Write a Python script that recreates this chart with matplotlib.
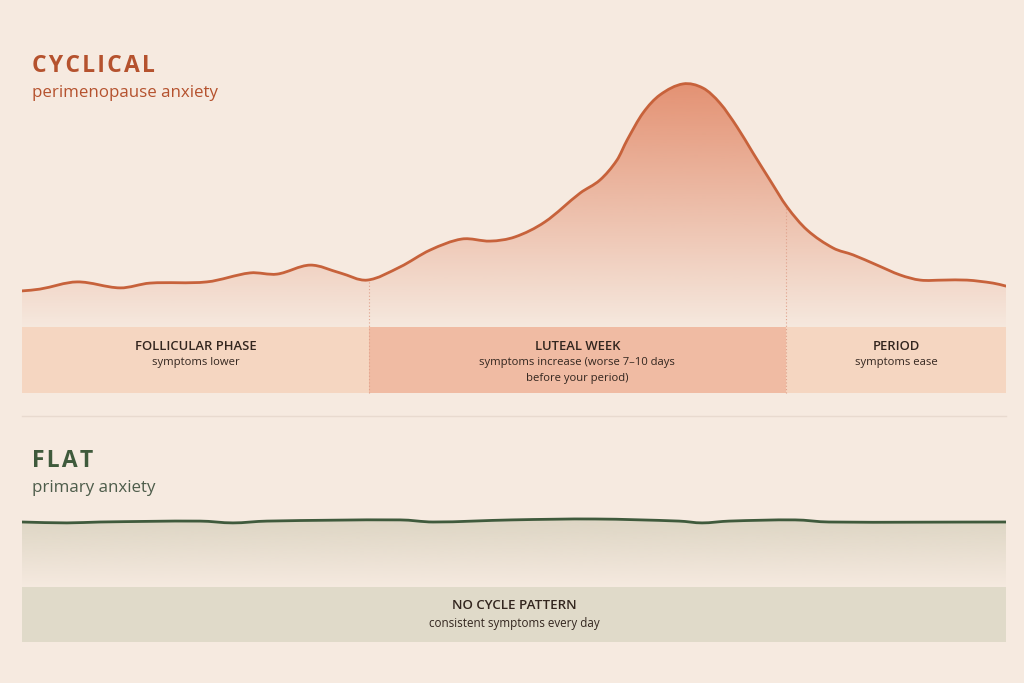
import matplotlib
matplotlib.use("Agg")
import matplotlib.pyplot as plt
import numpy as np
from matplotlib.path import Path
from matplotlib.patches import PathPatch
from matplotlib.lines import Line2D

plt.rcParams['font.family'] = ['Open Sans', 'DejaVu Sans']

# ---- data ----
# cyclical (perimenopause) symptom level over a 28-day cycle
cycle_days = [0.0, 0.51, 1.57, 2.79, 3.64, 5.26, 6.49, 7.26, 8.20, 9.05, 9.82,
              10.76, 11.61, 12.52, 13.32, 14.03, 14.88, 15.88, 16.45,
              16.93, 17.22, 17.67, 18.15, 18.81, 19.38, 19.86, 20.35, 20.80,
              21.28, 21.77, 22.34, 23.08, 23.65, 24.33, 24.99, 25.56,
              26.21, 26.89, 27.63, 28.0]
cycle_level = [0.97, 1.03, 1.27, 1.07, 1.23, 1.27, 1.57, 1.53, 1.83, 1.57, 1.33,
               1.77, 2.33, 2.70, 2.63, 2.77, 3.27, 4.23, 4.67,
               5.33, 6.00, 6.90, 7.50, 7.87, 7.73, 7.23, 6.43, 5.57,
               4.67, 3.77, 3.00, 2.40, 2.17, 1.83, 1.50, 1.33,
               1.33, 1.33, 1.23, 1.13]

# flat (primary anxiety) symptom level
flat_days = [0.0, 1.28, 2.22, 5.07, 6.00, 6.97, 10.76, 11.70, 13.94, 16.31,
             18.70, 19.35, 20.12, 22.00, 22.96, 28.0]
flat_level = [2.10, 2.07, 2.10, 2.13, 2.07, 2.13, 2.17, 2.10, 2.17, 2.20,
              2.13, 2.07, 2.13, 2.17, 2.10, 2.10]

phase_edges = [0.0, 9.87, 21.74, 28.0]
phase_titles = ["FOLLICULAR PHASE", "LUTEAL WEEK", "PERIOD"]
phase_notes = ["symptoms lower",
               "symptoms increase (worse 7\u201310 days\nbefore your period)",
               "symptoms ease"]
phase_colors = ['#f5d6c1', '#f0bba3', '#f5d6c1']

flat_title = "NO CYCLE PATTERN"
flat_note = "consistent symptoms every day"

# ---- style ----
W, H = 1024, 683
BG = '#f6eae0'
RUST = '#b5522e'
LINE_RUST = '#c7623b'
GREEN = '#3f5a3c'
GREEN_SUB = '#4d5c4a'
DARK = '#33261f'


def fx(px):
    return px / W


def fy(py):
    return 1 - py / H


def smooth_path(x, y, close_base=None):
    # cubic Hermite in x, written as Bezier segments
    x = np.asarray(x, float)
    y = np.asarray(y, float)
    n = len(x)
    m = np.empty(n)
    m[1:-1] = (y[2:] - y[:-2]) / (x[2:] - x[:-2])
    m[0] = (y[1] - y[0]) / (x[1] - x[0])
    m[-1] = (y[-1] - y[-2]) / (x[-1] - x[-2])
    verts = [(x[0], y[0])]
    codes = [Path.MOVETO]
    for i in range(n - 1):
        h = x[i + 1] - x[i]
        verts += [(x[i] + h / 3, y[i] + m[i] * h / 3),
                  (x[i + 1] - h / 3, y[i + 1] - m[i + 1] * h / 3),
                  (x[i + 1], y[i + 1])]
        codes += [Path.CURVE4] * 3
    if close_base is not None:
        verts += [(x[-1], close_base), (x[0], close_base), (x[0], y[0])]
        codes += [Path.LINETO, Path.LINETO, Path.CLOSEPOLY]
    return Path(verts, codes)


def gradient_under(ax, x, y, base, rgb, y_top, a_top, y_bot, a_bot, z):
    patch = PathPatch(smooth_path(x, y, base), facecolor='none', edgecolor='none')
    ax.add_patch(patch)
    grad = np.zeros((256, 1, 4))
    grad[..., :3] = matplotlib.colors.to_rgb(rgb)
    grad[:, 0, 3] = np.linspace(a_top, a_bot, 256)
    im = ax.imshow(grad, extent=[x[0], x[-1], y_bot, y_top], origin='upper',
                   aspect='auto', zorder=z, interpolation='bilinear')
    im.set_clip_path(patch)


fig = plt.figure(figsize=(W / 100, H / 100), dpi=100)
fig.patch.set_facecolor(BG)

# ---- top panel: cyclical ----
ax1 = fig.add_axes([fx(22), fy(400), (1006 - 22) / W, (400 - 40) / H])
ax1.set_facecolor('none')
ax1.axis('off')

gradient_under(ax1, cycle_days, cycle_level, -0.4, '#df7a56', 8.0, 0.8, -0.4, 0.0, 1)
ax1.add_patch(PathPatch(smooth_path(cycle_days, cycle_level), facecolor='none',
                        edgecolor=LINE_RUST, lw=2.0, zorder=4, capstyle='round'))

band_bottom, band_h = -2.433, 2.2
starts = phase_edges[:-1]
widths = np.diff(phase_edges)
ax1.bar(starts, band_h, widths, bottom=band_bottom, align='edge',
        color=phase_colors, edgecolor='none', zorder=2)

edge_tops = np.interp(phase_edges[1:-1], cycle_days, cycle_level)
ax1.vlines(phase_edges[1:-1], band_bottom, edge_tops, colors='#e0a18b',
           linestyles=(0, (1, 2)), lw=0.8, zorder=3)

for s, w, t, note in zip(starts, widths, phase_titles, phase_notes):
    cx = s + w / 2
    ax1.text(cx, -0.9, t, ha='center', va='center', fontsize=9.4,
             weight='semibold', color=DARK, zorder=5)
    for k, line in enumerate(note.split('\n')):
        ax1.text(cx, -1.43 - k * 0.533, line, ha='center', va='center',
                 fontsize=8.1, color=DARK, zorder=5)

ax1.set_xlim(0, 28)
ax1.set_ylim(-80 / 30, 280 / 30)

fig.text(fx(32), fy(66), '\u200a'.join("CYCLICAL"), ha='left', va='center',
         fontsize=16.5, weight='bold', color=RUST)
fig.text(fx(32), fy(93), "perimenopause anxiety", ha='left', va='center',
         fontsize=12.2, color=RUST)

# separator
fig.add_artist(Line2D([fx(22), fx(1006)], [fy(416), fy(416)], color='#e8dacf', lw=1.0))

# ---- bottom panel: flat ----
ax2 = fig.add_axes([fx(22), fy(650), (1006 - 22) / W, (650 - 430) / H])
ax2.set_facecolor('none')
ax2.axis('off')

gradient_under(ax2, flat_days, flat_level, -0.1, '#d9d2bf', 2.2, 0.85, -0.1, 0.0, 1)
ax2.add_patch(PathPatch(smooth_path(flat_days, flat_level), facecolor='none',
                        edgecolor=GREEN, lw=2.0, zorder=4, capstyle='round'))

ax2.bar([0.0], 1.833, [28.0], bottom=-1.9, align='edge', color='#e0dac9',
        edgecolor='none', zorder=2)
ax2.text(14, -0.67, flat_title, ha='center', va='center', fontsize=9.6,
         weight='semibold', color=DARK, zorder=5)
ax2.text(14, -1.27, flat_note, ha='center', va='center', fontsize=8.4,
         color=DARK, zorder=5)

ax2.set_xlim(0, 28)
ax2.set_ylim(-65 / 30, 155 / 30)

fig.text(fx(32), fy(461), '\u200a'.join("FLAT"), ha='left', va='center',
         fontsize=16.5, weight='bold', color=GREEN)
fig.text(fx(32), fy(488), "primary anxiety", ha='left', va='center',
         fontsize=12.2, color=GREEN_SUB)

fig.savefig('out.png', dpi=100, facecolor=BG)
